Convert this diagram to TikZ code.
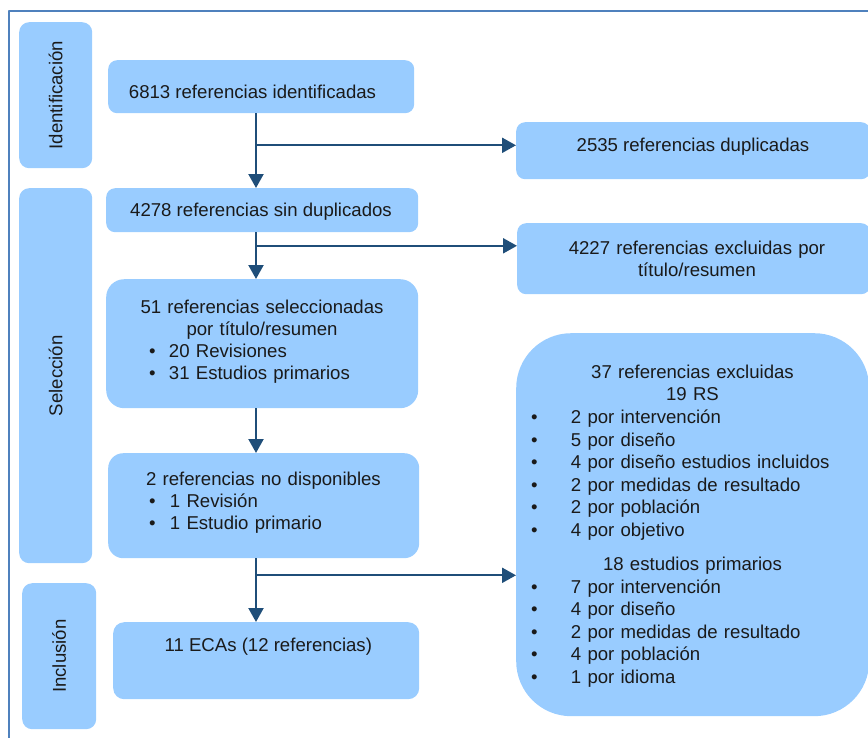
\documentclass[tikz,border=0pt]{standalone}
\usepackage{fontspec}
\setmainfont{Liberation Sans}
\usetikzlibrary{arrows.meta}
\definecolor{cajaazul}{RGB}{153,204,255}
\definecolor{flechaazul}{RGB}{31,78,121}
\definecolor{marco}{RGB}{79,129,189}
\definecolor{letra}{RGB}{26,26,26}
\newcommand{\vineta}[2]{\hspace*{#1}\makebox[#2][l]{\textbullet}}
\begin{document}
\begin{tikzpicture}[x=1pt,y=-1pt,>={Triangle[width=15pt,length=14pt]},
    font=\fontsize{18.6pt}{22pt}\selectfont, line join=round,
    caja/.style={fill=cajaazul,draw=none,inner sep=0pt,anchor=north west,rounded corners=#1},
    caja/.default=9pt,
    texto/.style={inner sep=0pt,anchor=base,text=letra},
    flecha/.style={->,draw=flechaazul,fill=flechaazul,line width=2.2pt}]
    \useasboundingbox (0,0) rectangle (868,737);
    % marco
    \draw[marco,line width=2.2pt] (9.2,745) -- (9.2,11.2) -- (880,11.2);
    % etapas
    \node[caja=10pt,minimum width=73pt,minimum height=146pt] (fase1) at (19,22) {};
    \node[caja=10pt,minimum width=73pt,minimum height=375pt] (fase2) at (19,188) {};
    \node[caja=10pt,minimum width=74pt,minimum height=146pt] (fase3) at (22,583) {};
    \node[texto,anchor=center,rotate=90] (fase1t) at (fase1.center) {Identificación};
    \node[texto,anchor=center,rotate=90] (fase2t) at (fase2.center) {Selección};
    \node[texto,anchor=center,rotate=90] (fase3t) at (fase3.center) {Inclusión};
    % columna central
    \node[caja,minimum width=306pt,minimum height=53pt] (ident) at (108,60) {};
    \node[caja,minimum width=312pt,minimum height=44pt] (nodup) at (106,188) {};
    \node[caja=18pt,minimum width=312pt,minimum height=129pt] (selec) at (106,279) {};
    \node[caja=15pt,minimum width=311pt,minimum height=105pt] (nodisp) at (108,453) {};
    \node[caja=11pt,minimum width=306pt,minimum height=77pt] (incl) at (113,622) {};
    \node[texto] (identt) at (252.5,98) {6813 referencias identificadas};
    \node[texto] (noduptt) at (261,216.5) {4278 referencias sin duplicados};
    \node[texto,text width=312pt] (select) at (262,313)
        {\centering 51 referencias seleccionadas\\por título/resumen\par
         \raggedright\vineta{43pt}{20pt}20 Revisiones\\
         \vineta{43pt}{20pt}31 Estudios primarios};
    \node[texto,text width=311pt] (nodispt) at (263.5,485)
        {\centering 2 referencias no disponibles\par
         \raggedright\vineta{41pt}{21pt}1 Revisión\\
         \vineta{41pt}{21pt}1 Estudio primario};
    \node[texto] (inclt) at (268.3,651.5) {11 ECAs (12 referencias)};
    % columna derecha
    \node[caja,minimum width=354pt,minimum height=57pt] (dup) at (516,122) {};
    \node[caja,minimum width=353pt,minimum height=71pt] (excl) at (517,223) {};
    \node[caja=55pt,minimum width=353pt,minimum height=383pt] (exclt) at (516,333) {};
    \node[texto] (dupt) at (693,151.5) {2535 referencias duplicadas};
    \node[texto,text width=353pt,align=center] (exclt1) at (697,254)
        {4227 referencias excluidas por\\título/resumen};
    \node[texto,text width=353pt,font=\fontsize{18.6pt}{22.6pt}\selectfont] (excltt) at (692.5,378.3)
        {\centering 37 referencias excluidas\\19 RS\par
         \raggedright
         \vineta{15pt}{40pt}2 por intervención\\
         \vineta{15pt}{40pt}5 por diseño\\
         \vineta{15pt}{40pt}4 por diseño estudios incluidos\\
         \vineta{15pt}{40pt}2 por medidas de resultado\\
         \vineta{15pt}{40pt}2 por población\\
         \vineta{15pt}{40pt}4 por objetivo\par
         \vspace{11.4pt}\centering 18 estudios primarios\par
         \raggedright
         \vineta{15pt}{40pt}7 por intervención\\
         \vineta{15pt}{40pt}4 por diseño\\
         \vineta{15pt}{40pt}2 por medidas de resultado\\
         \vineta{15pt}{40pt}4 por población\\
         \vineta{15pt}{40pt}1 por idioma};
    % flechas
    \coordinate (eje) at (256,0);
    \coordinate (r1) at (256,145.3);
    \coordinate (r2) at (256,245.8);
    \coordinate (r3) at (256,575.3);
    \draw[flecha] (ident.south -| eje) -- (nodup.north -| eje);
    \draw[flecha] (nodup.south -| eje) -- (selec.north -| eje);
    \draw[flecha] (selec.south -| eje) -- (nodisp.north -| eje);
    \draw[flecha] (nodisp.south -| eje) -- (incl.north -| eje);
    \draw[flecha] (r1) -- (r1 -| dup.west);
    \draw[flecha] (r2) -- (r2 -| excl.west);
    \draw[flecha] (r3) -- (r3 -| exclt.west);
\end{tikzpicture}
\end{document}
